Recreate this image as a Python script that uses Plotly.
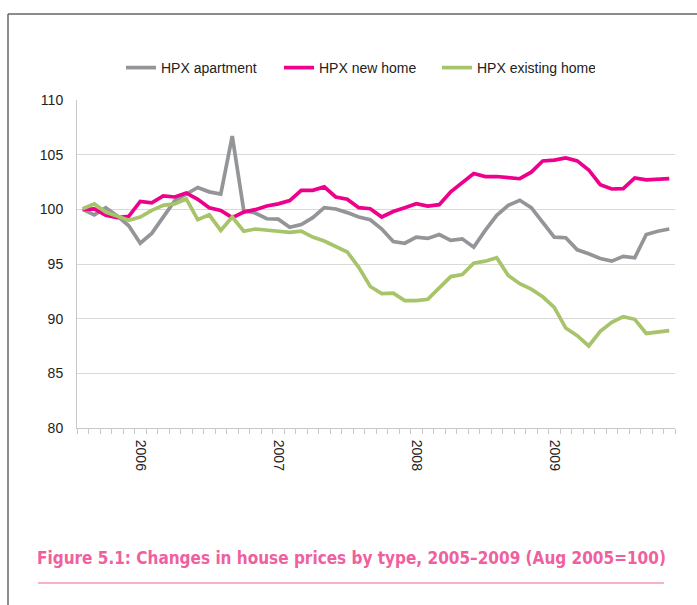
import plotly.graph_objects as go

# Monthly index, Aug 2005 = 100
months = []
y0, m0 = 2005, 8
for k in range(52):
    mm = (m0 - 1 + k) % 12 + 1
    yy = y0 + (m0 - 1 + k) // 12
    months.append(f"{yy}-{mm:02d}")

tick_text = [m[:4] if m.endswith("-01") else "" for m in months]

apartment = [100.0, 99.5, 100.15, 99.4, 98.5, 96.9, 97.8, 99.3, 100.8, 101.4,
             102.0, 101.6, 101.4, 106.7, 99.9, 99.66, 99.14, 99.1, 98.35, 98.6,
             99.24, 100.15, 100.03, 99.7, 99.3, 99.05, 98.2, 97.05, 96.9, 97.46,
             97.34, 97.7, 97.16, 97.3, 96.54, 98.07, 99.45, 100.37, 100.83, 100.15,
             98.84, 97.46, 97.4, 96.3, 95.93, 95.5, 95.26, 95.7, 95.57, 97.7,
             98.0, 98.2]

new_home = [100.0, 100.05, 99.45, 99.24, 99.36, 100.73, 100.6, 101.22, 101.13, 101.5,
            100.92, 100.15, 99.9, 99.24, 99.75, 99.97, 100.3, 100.5, 100.8, 101.74,
            101.74, 102.05, 101.13, 100.92, 100.15, 100.06, 99.3, 99.8, 100.15, 100.52,
            100.3, 100.43, 101.6, 102.4, 103.27, 103.0, 103.0, 102.9, 102.8, 103.4,
            104.42, 104.5, 104.7, 104.43, 103.6, 102.26, 101.86, 101.9, 102.87, 102.7,
            102.75, 102.8]

existing_home = [100.06, 100.5, 99.75, 99.4, 99.0, 99.3, 99.9, 100.37, 100.5, 100.95,
                 99.05, 99.5, 98.07, 99.3, 98.0, 98.2, 98.1, 98.07, 97.9, 98.0,
                 97.46, 97.1, 96.6, 96.1, 94.7, 92.94, 92.3, 92.33, 91.65, 91.65,
                 91.77, 92.87, 93.85, 94.04, 95.08, 95.26, 95.57, 93.95, 93.2, 92.7,
                 92.0, 91.04, 89.14, 88.44, 87.5, 88.84, 89.66, 90.18, 89.94, 88.65,
                 88.78, 88.9]

series_names = ["HPX apartment", "HPX new home", "HPX existing home"]
series_values = [apartment, new_home, existing_home]
series_colors = ["#939598", "#ec008c", "#a8c46a"]

title_text = "Figure 5.1: Changes in house prices by type, 2005\u20132009 (Aug 2005=100)"

fig = go.Figure()
for name, vals, col in zip(series_names, series_values, series_colors):
    fig.add_trace(go.Scatter(x=months, y=vals, mode="lines", name=name,
                             line=dict(color=col, width=3.7)))

W, H = 697, 605
L, R, T, B = 77, 22, 100, 177
pw, ph = W - L - R, H - T - B

def px_x(p):
    return (p - L) / pw

def px_y(p):
    return (H - B - p) / ph

fig.update_layout(
    width=W, height=H,
    margin=dict(l=L, r=R, t=T, b=B),
    paper_bgcolor="white", plot_bgcolor="white",
    font=dict(family="Liberation Sans, Arial, sans-serif", size=14, color="#222222"),
    showlegend=True,
    legend=dict(orientation="h", x=px_x(121), xanchor="left", y=px_y(68), yanchor="middle",
                font=dict(size=14, color="#222222"), bgcolor="rgba(0,0,0,0)",
                itemwidth=30, entrywidth=113, entrywidthmode="pixels"),
    xaxis=dict(type="category", categoryorder="array", categoryarray=months,
               range=[-0.5, len(months) - 0.5],
               tickmode="array", tickvals=months, ticktext=tick_text,
               tickson="boundaries", ticks="outside", ticklen=5, tickcolor="#c8c8c8",
               tickangle=90, ticklabelstandoff=8, showgrid=False, showline=True,
               linecolor="#c8c8c8", linewidth=1, zeroline=False,
               tickfont=dict(size=14, color="#222222")),
    yaxis=dict(range=[80, 110], tickmode="linear", tick0=80, dtick=5,
               showgrid=True, gridcolor="#d9d9d9", gridwidth=1,
               showline=True, linecolor="#c8c8c8", linewidth=1, zeroline=False,
               ticks="", ticklabelstandoff=10, tickfont=dict(size=14, color="#222222")),
)

# frame
fig.add_shape(type="line", xref="paper", yref="paper",
              x0=px_x(8), x1=px_x(720), y0=px_y(14), y1=px_y(14),
              line=dict(color="#666666", width=1.5))
fig.add_shape(type="line", xref="paper", yref="paper",
              x0=px_x(8), x1=px_x(8), y0=px_y(14), y1=px_y(640),
              line=dict(color="#666666", width=1.5))
# title underline
fig.add_shape(type="line", xref="paper", yref="paper",
              x0=px_x(38), x1=px_x(664), y0=px_y(583), y1=px_y(583),
              line=dict(color="#f0609e", width=1))

fig.add_annotation(text="<b>" + title_text + "</b>", xref="paper", yref="paper",
                   x=px_x(351), y=px_y(558), xanchor="center", yanchor="middle",
                   showarrow=False,
                   font=dict(family="DejaVu Sans Condensed, Liberation Sans Narrow, sans-serif",
                             size=17, color="#f0609e"))

fig.write_html("out.html", config={"displayModeBar": False},
               post_script="document.body.style.margin='0';")
